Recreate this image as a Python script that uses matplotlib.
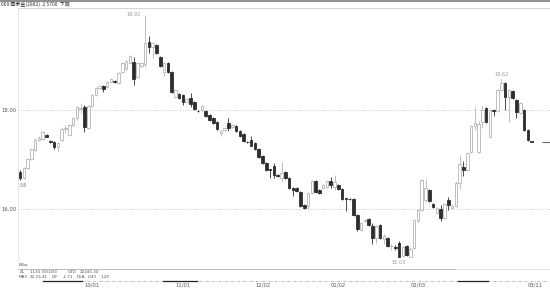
import matplotlib

matplotlib.use("Agg")
import matplotlib.pyplot as plt
import numpy as np
from matplotlib.lines import Line2D

W, H = 550, 289

TITLE = "000 國泰金(2882)  2.5700  下跌"

# daily candles (open, high, low, close)
opens = [
    16.74, 16.63, 16.82, 17.02, 17.20, 17.40, 17.42, 17.49, 17.38, 17.36,
    17.25, 17.40, 17.62, 17.50, 17.70, 17.83, 18.03, 18.07, 17.64, 18.08,
    18.30, 18.44, 18.48, 18.47, 18.57, 18.58, 18.55, 18.76, 18.82, 18.95,
    18.97, 18.67, 18.88, 18.92, 19.38, 19.28, 19.31, 19.08, 18.77, 18.94,
    18.77, 18.26, 18.33, 18.30, 18.17, 18.25, 18.16, 17.98, 17.99, 17.97,
    17.90, 17.83, 17.76, 17.54, 17.60, 17.73, 17.65, 17.68, 17.58, 17.52,
    17.36, 17.40, 17.33, 17.22, 17.07, 16.93, 16.80, 16.86, 16.68, 16.62,
    16.75, 16.62, 16.42, 16.43, 16.34, 16.08, 16.06, 16.32, 16.57, 16.39,
    16.42, 16.45, 16.56, 16.45, 16.48, 16.41, 16.22, 16.21, 16.21, 15.88,
    15.58, 15.75, 15.80, 15.65, 15.41, 15.67, 15.40, 15.41, 15.25, 15.24,
    15.31, 15.06, 15.25, 15.04, 15.21, 15.76, 15.98, 16.18, 16.38, 16.10,
    15.92, 16.00, 15.82, 16.18, 16.02, 16.06, 16.53, 16.85, 16.79, 17.15,
    17.67, 17.15, 17.76, 18.04, 17.45, 17.99, 17.97, 18.40, 18.54, 18.26,
    18.38, 18.21, 17.94, 18.00, 17.60, 17.37,
]
highs = [
    16.78, 16.84, 17.04, 17.24, 17.43, 17.47, 17.58, 17.52, 17.40, 17.38,
    17.36, 17.65, 17.70, 17.72, 17.86, 18.09, 18.14, 18.10, 18.10, 18.33,
    18.46, 18.51, 18.50, 18.59, 18.65, 18.61, 18.77, 18.97, 19.00, 19.11,
    19.07, 18.97, 18.97, 19.92, 19.49, 19.37, 19.33, 19.10, 18.96, 18.96,
    18.79, 18.42, 18.35, 18.32, 18.25, 18.35, 18.18, 18.00, 18.10, 17.99,
    17.92, 17.85, 17.78, 17.60, 17.66, 17.83, 17.71, 17.70, 17.60, 17.54,
    17.38, 17.48, 17.35, 17.24, 17.09, 16.95, 16.81, 16.92, 16.70, 16.94,
    16.77, 16.64, 16.45, 16.45, 16.36, 16.10, 16.34, 16.59, 16.59, 16.41,
    16.50, 16.59, 16.64, 16.68, 16.51, 16.43, 16.23, 16.23, 16.23, 15.90,
    15.73, 15.80, 15.82, 15.72, 15.67, 15.69, 15.50, 15.43, 15.30, 15.27,
    15.36, 15.26, 15.27, 15.24, 15.80, 16.01, 16.60, 16.60, 16.40, 16.12,
    16.04, 16.08, 16.12, 16.24, 16.10, 16.57, 17.10, 16.96, 17.15, 17.69,
    18.06, 17.77, 18.09, 18.06, 18.02, 18.03, 18.42, 18.62, 18.56, 18.43,
    18.40, 18.23, 18.16, 18.02, 17.62, 17.38,
]
lows = [
    16.58, 16.60, 16.80, 17.00, 17.18, 17.38, 17.40, 17.45, 17.33, 17.22,
    17.18, 17.38, 17.54, 17.47, 17.68, 17.80, 17.94, 17.56, 17.62, 18.06,
    18.28, 18.42, 18.36, 18.45, 18.55, 18.55, 18.53, 18.74, 18.80, 18.93,
    18.50, 18.65, 18.86, 18.87, 19.16, 19.05, 19.13, 18.86, 18.68, 18.75,
    18.35, 18.24, 18.23, 18.10, 18.15, 18.07, 18.00, 17.95, 17.97, 17.86,
    17.78, 17.71, 17.59, 17.48, 17.58, 17.57, 17.63, 17.56, 17.45, 17.35,
    17.33, 17.27, 17.20, 17.03, 16.90, 16.77, 16.63, 16.63, 16.64, 16.56,
    16.60, 16.40, 16.27, 16.34, 16.04, 16.00, 16.00, 16.30, 16.33, 16.30,
    16.40, 16.43, 16.42, 16.38, 16.38, 16.18, 15.95, 16.18, 15.85, 15.55,
    15.56, 15.73, 15.66, 15.30, 15.32, 15.39, 15.30, 15.24, 15.17, 15.18,
    15.03, 15.05, 15.05, 15.05, 15.19, 15.74, 15.96, 16.15, 16.14, 16.02,
    15.90, 15.76, 15.80, 15.99, 16.00, 16.04, 16.41, 16.66, 16.77, 17.13,
    17.60, 17.13, 17.64, 17.73, 17.43, 17.87, 17.95, 18.38, 17.99, 17.76,
    18.23, 17.83, 17.92, 17.58, 17.37, 17.35,
]
closes = [
    16.62, 16.82, 17.02, 17.22, 17.40, 17.44, 17.55, 17.46, 17.35, 17.25,
    17.33, 17.62, 17.63, 17.69, 17.84, 18.06, 18.05, 17.66, 18.08, 18.30,
    18.44, 18.48, 18.42, 18.57, 18.62, 18.57, 18.75, 18.95, 18.98, 19.09,
    18.63, 18.95, 18.95, 19.36, 19.28, 19.35, 19.15, 18.88, 18.94, 18.77,
    18.37, 18.40, 18.25, 18.17, 18.23, 18.13, 18.02, 17.97, 18.08, 17.88,
    17.80, 17.73, 17.61, 17.58, 17.64, 17.63, 17.69, 17.58, 17.47, 17.37,
    17.35, 17.28, 17.22, 17.05, 16.92, 16.79, 16.79, 16.69, 16.67, 16.73,
    16.62, 16.42, 16.38, 16.36, 16.06, 16.02, 16.32, 16.57, 16.35, 16.32,
    16.48, 16.57, 16.48, 16.55, 16.40, 16.20, 16.21, 16.20, 15.87, 15.60,
    15.71, 15.78, 15.68, 15.41, 15.65, 15.41, 15.45, 15.26, 15.26, 15.22,
    15.04, 15.24, 15.07, 15.20, 15.78, 15.99, 16.59, 16.42, 16.16, 16.04,
    16.02, 15.81, 16.10, 16.08, 16.06, 16.53, 16.90, 16.79, 17.13, 17.67,
    17.74, 17.72, 18.00, 17.75, 18.00, 17.97, 18.40, 18.54, 18.26, 18.41,
    18.25, 17.95, 18.14, 17.60, 17.39, 17.36,
]
last_price = 17.35

y_ticks = [16.0, 18.0]
month_index = [19, 43, 64, 84, 105, 136]
month_labels = ["10/01", "11/01", "12/02", "01/02", "02/03", "03/11"]

panel_row1 = ["ZL", "1134 30(100)", "GTD", "22245.30"]
panel_row2 = ["MA3", "22,23,41", "DIF", "-1.71", "DEA", "0.43", "1.29"]

DARK = "#2e2e2e"
LIGHT = "#b4b4b4"
TXT = "#555555"
CJK = ["Noto Sans CJK TC", "DejaVu Sans"]


def fx(x):
    return x / W


def fy(y):
    return 1 - y / H


fig = plt.figure(figsize=(W / 100, H / 100), dpi=100)
fig.patch.set_facecolor("white")

# price panel
ax = fig.add_axes([fx(18), fy(262), fx(532), (262 - 8) / H])
ax.set_xlim(-0.53, 139.84)
ax.set_ylim(14.93, 20.06)

o = np.array(opens)
c = np.array(closes)
hi = np.array(highs)
lo = np.array(lows)
idx = np.arange(len(o))
up = c >= o
colors = np.where(up, LIGHT, DARK)

ax.vlines(idx, lo, hi, colors=colors, linewidth=0.6, zorder=2)
ax.bar(
    idx,
    np.abs(c - o),
    bottom=np.minimum(o, c),
    width=0.68,
    facecolor=np.where(up, "white", DARK),
    edgecolor=colors,
    linewidth=0.6,
    zorder=3,
)
ax.hlines(last_price, 137.7, 139.84, colors="#666666", linewidth=0.8)

for t in y_ticks:
    ax.axhline(t, color="#c4c4c4", linewidth=0.6, linestyle=(0, (1, 1.6)), zorder=1)

ax.set_yticks(y_ticks)
ax.set_yticklabels([f"{t:.2f}" for t in y_ticks], fontsize=3.8, color=TXT)
ax.tick_params(axis="y", length=0, pad=1)
ax.set_xticks([])
for side in ["right", "bottom"]:
    ax.spines[side].set_visible(False)
ax.spines["top"].set_color("#cfcfcf")
ax.spines["top"].set_linewidth(0.6)
ax.spines["left"].set_color("#e2e2e2")
ax.spines["left"].set_linewidth(0.6)

# extreme value labels
i_hi = int(np.argmax(hi))
i_lo = int(np.argmin(lo))
i_peak2 = 127
ax.text(i_hi - 1.2, hi[i_hi], f"{hi[i_hi]:.2f}", fontsize=3.6, color="#9a9a9a",
        ha="right", va="center")
ax.text(i_peak2, hi[i_peak2] + 0.05, f"{hi[i_peak2]:.2f}", fontsize=3.6,
        color="#9a9a9a", ha="center", va="bottom")
ax.text(i_lo, lo[i_lo] - 0.06, f"{lo[i_lo]:.2f}", fontsize=3.6, color="#9a9a9a",
        ha="center", va="top", clip_on=False)
ax.text(0, lo[0] - 0.05, f"{lo[0]:.2f}", fontsize=3.6, color="#777777",
        ha="center", va="top", clip_on=True)

# indicator strip + date axis
ax2 = fig.add_axes([fx(18), fy(281), fx(532), (281 - 264) / H])
ax2.set_xlim(ax.get_xlim())
ax2.set_ylim(0, 1)
ax2.set_yticks([])
ax2.set_xticks(month_index)
ax2.set_xticklabels(month_labels, fontsize=3.8, color=TXT)
ax2.tick_params(axis="x", length=0, pad=1.2)
for side in ax2.spines.values():
    side.set_visible(False)
ax2.patch.set_alpha(0)

fig.text(fx(19), fy(265), "BBw", fontsize=3.2, color=TXT, va="center")
for label, x in zip(panel_row1, [20, 30, 68, 80]):
    fig.text(fx(x), fy(272.3), label, fontsize=3.0, color=TXT, va="center")
for label, x in zip(panel_row2, [19, 30, 52, 63, 77, 88, 101]):
    fig.text(fx(x), fy(277), label, fontsize=3.0, color=TXT, va="center")

lines = [
    Line2D([0, 1], [fy(0.7)] * 2, color="#8e8e8e", linewidth=1.4),
    Line2D([fx(18), fx(456)], [fy(269.4)] * 2, color="#b0b0b0", linewidth=0.6),
    Line2D([fx(456), 1], [fy(269.4)] * 2, color="#dcdcdc", linewidth=0.6),
    Line2D([fx(43), 1], [fy(281)] * 2, color="#a0a0a0", linewidth=0.5,
           linestyle=(0, (4, 2, 1, 2))),
]
for x0, x1 in [(43, 82), (163, 197), (458, 488)]:
    lines.append(Line2D([fx(x0), fx(x1)], [fy(281)] * 2, color="#222222",
                        linewidth=0.9))
for ln in lines:
    fig.add_artist(ln)

fig.text(fx(1), fy(4.3), TITLE, fontsize=3.6, color="#333333", va="center",
         family=CJK)

fig.savefig("out.png", dpi=100)
